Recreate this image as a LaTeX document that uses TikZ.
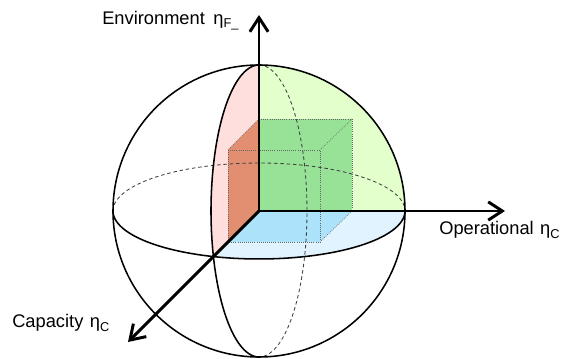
\documentclass[tikz,border=0pt]{standalone}
\usepackage{fontspec}
\setmainfont{Liberation Sans}
\usetikzlibrary{arrows.meta}
\definecolor{envpale}{RGB}{255,222,222}
\definecolor{oppale}{RGB}{226,255,204}
\definecolor{cappale}{RGB}{225,243,255}
\definecolor{envface}{RGB}{226,142,112}
\definecolor{opface}{RGB}{152,226,152}
\definecolor{capface}{RGB}{172,226,250}
\begin{document}
\begin{tikzpicture}[x=0.025cm, y=-0.025cm,
		axis/.style={line width=2.1pt, -{Straight Barb[length=10pt, width=13pt, line width=2.1pt]}},
		rim/.style={line width=1.1pt},
		hidden/.style={line width=0.6pt, black!75, dash pattern=on 2.5pt off 2pt},
		edge/.style={line width=0.5pt, black!60, densely dotted},
		label/.style={font=\fontsize{13}{15}\selectfont, inner sep=0pt}]
		\useasboundingbox (0,0) rectangle (561,359);
		% centre of the sphere and ends of the axes
		\coordinate (O) at (259,211);
		\coordinate (envtip) at (259,15);
		\coordinate (optip) at (505,211);
		\coordinate (captip) at (128,342);
		% corners of the box
		\coordinate (bt) at (259,119);
		\coordinate (btr) at (352,119);
		\coordinate (bbr) at (352,211);
		\coordinate (ftl) at (228,150);
		\coordinate (ftr) at (320,150);
		\coordinate (fbr) at (320,242);
		\coordinate (fbl) at (228,242);
		% quarter discs
		\fill[envpale] (O) -- plot[domain=161.8:270, samples=40, variable=\t] ({259+48*cos(\t)},{211+146*sin(\t)}) -- cycle;
		\fill[oppale] (O) -- plot[domain=0:90, samples=40, variable=\t] ({259+146*cos(\t)},{211-146*sin(\t)}) -- cycle;
		\fill[cappale] (O) -- plot[domain=0:108.2, samples=40, variable=\t] ({259+146*cos(\t)},{211+48*sin(\t)}) -- cycle;
		% faces of the box
		\fill[opface] (O) rectangle (btr);
		\fill[envface] (O) -- (bt) -- (ftl) -- (fbl) -- cycle;
		\fill[capface] (O) -- (bbr) -- (fbr) -- (fbl) -- cycle;
		% hidden halves
		\draw[hidden] plot[domain=180:360, samples=60, variable=\t] ({259+146*cos(\t)},{211+48*sin(\t)});
		\draw[hidden] plot[domain=-90:90, samples=60, variable=\t] ({259+48*cos(\t)},{211+146*sin(\t)});
		% box edges
		\draw[edge] (bt) -- (btr) -- (bbr);
		\draw[edge] (ftl) -- (ftr) -- (fbr) -- (fbl) -- cycle;
		\draw[edge] (bt) -- (ftl) (btr) -- (ftr) (bbr) -- (fbr);
		% sphere
		\draw[rim] (O) circle[radius=146];
		\draw[rim] plot[domain=0:180, samples=60, variable=\t] ({259+146*cos(\t)},{211+48*sin(\t)});
		\draw[rim] plot[domain=90:270, samples=60, variable=\t] ({259+48*cos(\t)},{211+146*sin(\t)});
		% axes
		\foreach \tip in {envtip,optip,captip}
		  \draw[axis] (O) -- (\tip);
		\node[label, anchor=base west] (envlabel) at (102,25) {Environment\hspace{6pt}η\textsubscript{F\_}};
		\node[label, anchor=base west] (oplabel) at (439,235) {Operational\hspace{1pt} η\textsubscript{C}};
		\node[label, anchor=base west] (caplabel) at (12,328) {Capacity\hspace{1pt} η\textsubscript{C}};
	\end{tikzpicture}
\end{document}
